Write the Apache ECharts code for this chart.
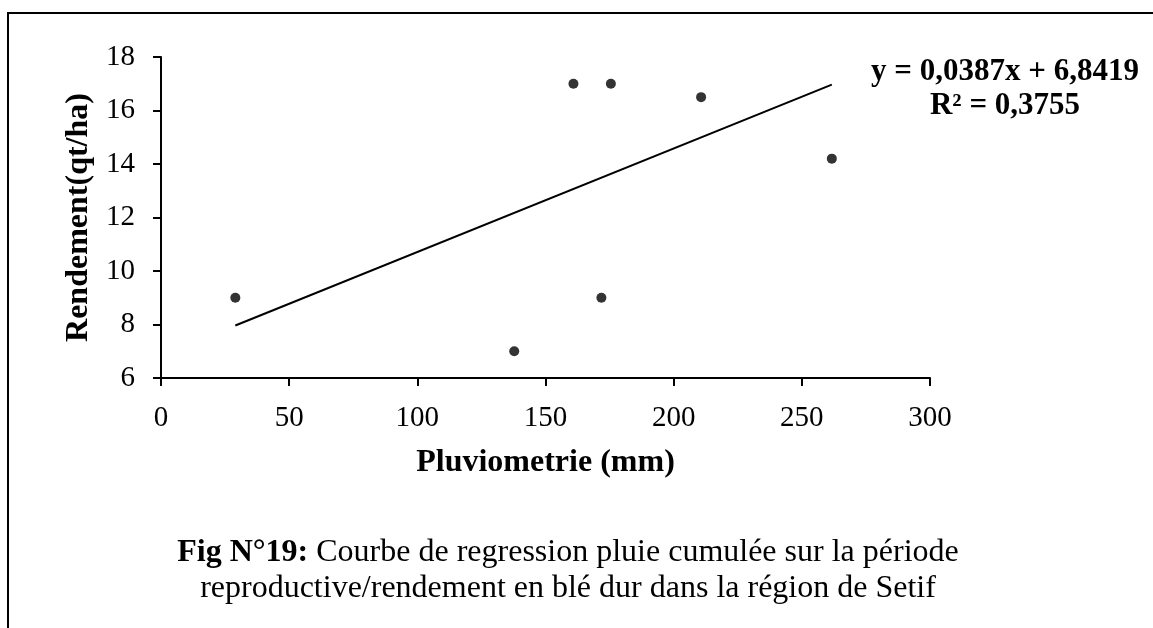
<!DOCTYPE html>
<html>
<head>
<meta charset="utf-8">
<script src="https://cdn.jsdelivr.net/npm/echarts@6/dist/echarts.min.js"></script>
<style>
  html, body { margin: 0; padding: 0; background: #fff; }
  #main { width: 1153px; height: 628px; }
</style>
</head>
<body>
<div id="main"></div>
<script>
// pluviometrie (mm) / rendement (qt/ha)
const pluie = [29, 137.8, 171.8, 160.9, 175.5, 210.7, 261.7];
const rendement = [9, 7, 9, 17, 17, 16.5, 14.2];
const xTicks = [0, 50, 100, 150, 200, 250, 300];
const yTicks = [6, 8, 10, 12, 14, 16, 18];
// trendline given on the figure
const pente = 0.0387;
const origine = 6.8419;
const eqText = 'y = 0,0387x + 6,8419';
const r2Text = 'R² = 0,3755';

const points = pluie.map((x, i) => [x, rendement[i]]);
const xMin = Math.min(...pluie);
const xMax = Math.max(...pluie);
const tendance = [[xMin, pente * xMin + origine], [xMax, pente * xMax + origine]];

const font = 'Liberation Serif';
const chart = echarts.init(document.getElementById('main'));

chart.setOption({
  animation: false,
  grid: { left: 161, top: 57, right: 223, bottom: 250 },
  xAxis: {
    type: 'value',
    min: xTicks[0], max: xTicks[xTicks.length - 1], interval: 50,
    name: 'Pluviometrie (mm)',
    nameLocation: 'middle', nameGap: 69,
    nameTextStyle: { fontFamily: font, fontSize: 32, fontWeight: 'bold', color: '#000' },
    axisLine: { lineStyle: { color: '#000', width: 2 } },
    axisTick: { show: true, length: 8, lineStyle: { color: '#000', width: 2 } },
    axisLabel: { fontFamily: font, fontSize: 29, color: '#000', margin: 26 },
    splitLine: { show: false }
  },
  yAxis: {
    type: 'value',
    min: yTicks[0], max: yTicks[yTicks.length - 1], interval: 2,
    name: 'Rendement(qt/ha)',
    nameLocation: 'middle', nameGap: 64,
    nameTextStyle: { fontFamily: font, fontSize: 32, fontWeight: 'bold', color: '#000' },
    axisLine: { show: true, lineStyle: { color: '#000', width: 2 } },
    axisTick: { show: true, length: 8, lineStyle: { color: '#000', width: 2 } },
    axisLabel: { fontFamily: font, fontSize: 29, color: '#000', margin: 26 },
    splitLine: { show: false }
  },
  series: [
    {
      type: 'line',
      data: tendance,
      symbol: 'none',
      lineStyle: { color: '#000', width: 2 },
      z: 2
    },
    {
      type: 'scatter',
      data: points,
      symbol: 'circle',
      symbolSize: 10,
      itemStyle: { color: '#000' },
      z: 3
    }
  ],
  graphic: [
    {
      type: 'polyline',
      shape: { points: [[8, 628], [8, 13], [1153, 13]] },
      style: { stroke: '#000', lineWidth: 2, fill: null }
    },
    {
      type: 'text',
      x: 1005, y: 55,
      style: {
        text: eqText + '\n' + r2Text,
        font: 'bold 31px "Liberation Serif"',
        fill: '#000',
        align: 'center',
        lineHeight: 34
      }
    },
    {
      type: 'text',
      x: 568, y: 535,
      style: {
        text: '{b|Fig N°19:} Courbe de regression pluie cumulée sur la période\nreproductive/rendement en blé dur dans la région de Setif',
        fontFamily: font,
        fontSize: 32,
        fill: '#000',
        align: 'center',
        lineHeight: 36,
        rich: {
          b: { fontFamily: font, fontSize: 32, fontWeight: 'bold', fill: '#000' }
        }
      }
    }
  ]
});
</script>
</body>
</html>
